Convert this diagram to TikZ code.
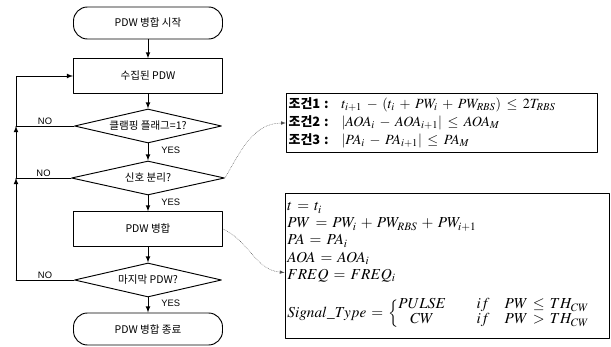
\documentclass[tikz,border=0pt]{standalone}
\usepackage{mathptmx}
\usepackage{fontspec}
\setmainfont{Liberation Serif}
\newfontfamily\krfont{Noto Sans CJK KR}
\newfontfamily\flowfont{Liberation Sans}
\usetikzlibrary{arrows,shapes.geometric}

\begin{document}
\begin{tikzpicture}[line cap=round,line join=round,>=latex,x=0.03cm,y=-0.03cm,
  terminal/.style={draw,thick,rounded corners=0.42cm,minimum width=4.47cm,minimum height=0.96cm,font=\krfont\fontsize{9}{10}\selectfont},
  process/.style={draw,thick,minimum width=4.47cm,minimum height=1.03cm,font=\krfont\fontsize{9}{10}\selectfont},
  decision/.style={draw,thick,diamond,aspect=4.4,inner sep=0pt,minimum width=4.41cm,minimum height=1.02cm,font=\krfont\fontsize{9}{10}\selectfont},
  answer/.style={font=\flowfont\fontsize{8}{9}\selectfont,inner sep=1pt},
  notebox/.style={draw,thick,inner sep=2pt,align=left}]

% flowchart specifications
\def\cx{148} % centre line of the flowchart
\def\lx{16} % x of the loop-back line

\useasboundingbox (0,0) rectangle (611,347);

% main flow
\node[terminal] (start) at (\cx,23) {PDW 병합 시작};
\node[process] (collect) at (\cx,76) {수집된 PDW};
\node[decision] (flag) at (\cx,126) {클램핑 플래그=1?};
\node[decision,minimum width=4.59cm] (split) at (\cx,178) {신호 분리?};
\node[process] (merge) at (\cx,229) {PDW 병합};
\node[decision] (last) at (\cx,280) {마지막 PDW?};
\node[terminal] (stop) at (\cx,329) {PDW 병합 종료};

\draw[thick,->] (start) -- (collect);
\draw[thick,->] (collect) -- (flag);
\draw[thick,->] (flag) -- node[answer,pos=0.4,right,xshift=10pt] {YES} (split);
\draw[thick,->] (split) -- node[answer,pos=0.4,right,xshift=10pt] {YES} (merge);
\draw[thick,->] (merge) -- (last);
\draw[thick,->] (last) -- node[answer,pos=0.4,right,xshift=10pt] {YES} (stop);

% loop back on NO
\coordinate (j1) at (\lx,126);
\coordinate (j2) at (\lx,178);
\coordinate (j3) at (\lx,280);
\draw[thick] (last.west) -- node[answer,above] {NO} (j3);
\draw[thick,->] (j3) -- (j2);
\draw[thick] (split.west) -- node[answer,above] {NO} (j2);
\draw[thick,->] (j2) -- (j1);
\draw[thick] (flag.west) -- node[answer,above] {NO} (j1);
\draw[thick,->] (j1) |- (collect.west);

% condition and result boxes
\node[notebox,text width=9.2cm,minimum height=1.68cm] (cond) at (442,123) {%
  \fontsize{12}{14.5}\selectfont
  \medmuskip=6mu plus 2mu \thickmuskip=7mu plus 3mu
  \renewcommand\arraystretch{1.06}%
  \begin{tabular}{@{}l@{\hspace{11pt}}l@{}}
  {\krfont\bfseries\fontsize{11}{14}\selectfont 조건1 :} & $t_{i+1}-(t_i+PW_i+PW_{RBS})\le 2T_{RBS}$\\
  {\krfont\bfseries\fontsize{11}{14}\selectfont 조건2 :} & $|AOA_i-AOA_{i+1}|\le AOA_M$\\
  {\krfont\bfseries\fontsize{11}{14}\selectfont 조건3 :} & $|PA_i-PA_{i+1}|\le PA_M$
  \end{tabular}};
\node[notebox,text width=9.58cm,minimum height=4.35cm] (result) at (447,265.5) {%
  \fontsize{13}{14.6}\selectfont
  \medmuskip=5mu plus 2mu \thickmuskip=6mu plus 3mu
  $t=t_i$\\
  $PW=PW_i+PW_{RBS}+PW_{i+1}$\\
  $PA=PA_i$\\
  $AOA=AOA_i$\\
  $FREQ=FREQ_i$\\[13pt]
  $Signal\_Type=\left\{\renewcommand\arraystretch{0.88}\begin{array}{@{}c@{\qquad}c@{\quad}l@{}}
    PULSE & if & PW\le TH_{CW}\\
    CW & if & PW>TH_{CW}
  \end{array}\right.$};

% dotted callouts
\draw[densely dotted,->,black!70] (split.east) to[out=60,in=180] (cond.west);
\draw[densely dotted,->,black!70] (merge.east) to[out=-25,in=175] ([yshift=-6pt]result.west);

\end{tikzpicture}
\end{document}
